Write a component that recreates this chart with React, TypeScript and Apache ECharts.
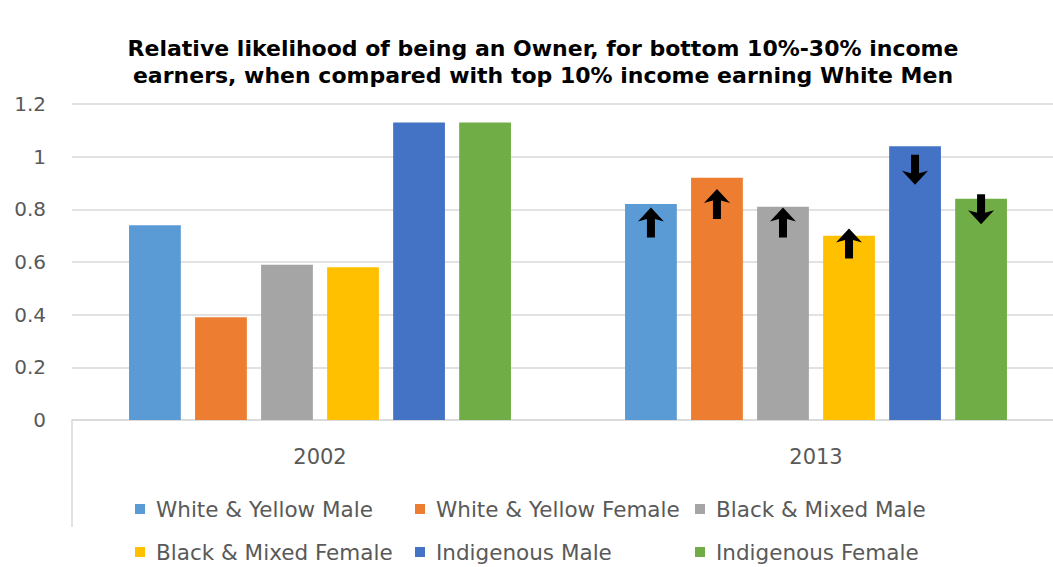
import React, { useEffect, useRef } from "react";
import * as echarts from "echarts";

const years = ["2002", "2013"];
const groupNames = [
  "White & Yellow Male",
  "White & Yellow Female",
  "Black & Mixed Male",
  "Black & Mixed Female",
  "Indigenous Male",
  "Indigenous Female",
];
const groupColors = ["#5B9BD5", "#ED7D31", "#A5A5A5", "#FFC000", "#4472C4", "#70AD47"];
const values2002 = [0.74, 0.39, 0.59, 0.58, 1.13, 1.13];
const values2013 = [0.82, 0.92, 0.81, 0.7, 1.04, 0.84];
const arrowDirections2013 = ["up", "up", "up", "up", "down", "down"];
const arrowCenters2013 = [0.75, 0.82, 0.75, 0.67, 0.95, 0.8];
const yTicks = { min: 0, max: 1.2, interval: 0.2 };
const titleText =
  "Relative likelihood of being an Owner, for bottom 10%-30% income\nearners, when compared with top 10% income earning White Men";

const FONT = "DejaVu Sans";
const ARROW = "path://M13 0 L26 14 L17 11.5 L17 30 L9 30 L9 11.5 L0 14 Z";

export default function App() {
  const ref = useRef<HTMLDivElement>(null);
  useEffect(() => {
    if (!ref.current) return;
    const chart = echarts.init(ref.current, undefined, { renderer: "svg" });
    const legendCols = [135, 415, 695];
    const legendRows = [497, 540];
    const legends = groupNames.map((name, i) => ({
      data: [name],
      left: legendCols[i % 3],
      top: legendRows[Math.floor(i / 3)],
      padding: 0,
      icon: "rect",
      itemWidth: 10,
      itemHeight: 10,
      selectedMode: false,
      textStyle: {
        fontFamily: FONT,
        fontSize: 21.5,
        color: "#595959",
        lineHeight: 24,
        padding: [0, 0, 0, 6],
      },
    }));
    const series = groupNames.map((name, i) => ({
      name,
      type: "bar",
      data: [values2002[i], values2013[i]],
      itemStyle: { color: groupColors[i] },
      barGap: "27.5%",
      barCategoryGap: "23%",
      markPoint: {
        symbol: ARROW,
        symbolSize: [26, 30],
        symbolRotate: arrowDirections2013[i] === "down" ? 180 : 0,
        itemStyle: { color: "#000" },
        label: { show: false },
        silent: true,
        data: [{ coord: [years[1], arrowCenters2013[i]] }],
      },
    }));
    chart.setOption({
      animation: false,
      backgroundColor: "#fff",
      title: {
        text: titleText,
        left: "center",
        top: 35,
        padding: 0,
        textStyle: {
          fontFamily: FONT,
          fontWeight: "bold",
          fontSize: 22,
          lineHeight: 27,
          color: "#000",
        },
      },
      grid: { left: 72, top: 104, width: 992, height: 316 },
      xAxis: {
        type: "category",
        data: years,
        axisLine: { lineStyle: { color: "#d9d9d9", width: 1.5 } },
        axisTick: { show: false },
        axisLabel: { fontFamily: FONT, fontSize: 21, color: "#595959", margin: 26 },
      },
      yAxis: {
        type: "value",
        min: yTicks.min,
        max: yTicks.max,
        interval: yTicks.interval,
        axisLine: { show: false },
        axisTick: { show: false },
        splitLine: { lineStyle: { color: "#d9d9d9", width: 1.5 } },
        axisLabel: {
          fontFamily: FONT,
          fontSize: 20,
          color: "#595959",
          margin: 26,
          formatter: (v: number) => String(parseFloat(v.toFixed(1))),
        },
      },
      legend: legends,
      graphic: [
        {
          type: "line",
          shape: { x1: 72, y1: 420, x2: 72, y2: 527 },
          style: { stroke: "#d9d9d9", lineWidth: 1.5 },
          silent: true,
        },
      ],
      series,
    });
    return () => chart.dispose();
  }, []);
  return (
    <div style={{ position: "absolute", left: 0, top: 0, width: 1053, height: 567, overflow: "hidden", background: "#fff" }}>
      <div ref={ref} style={{ width: 1086, height: 567 }} />
    </div>
  );
}
